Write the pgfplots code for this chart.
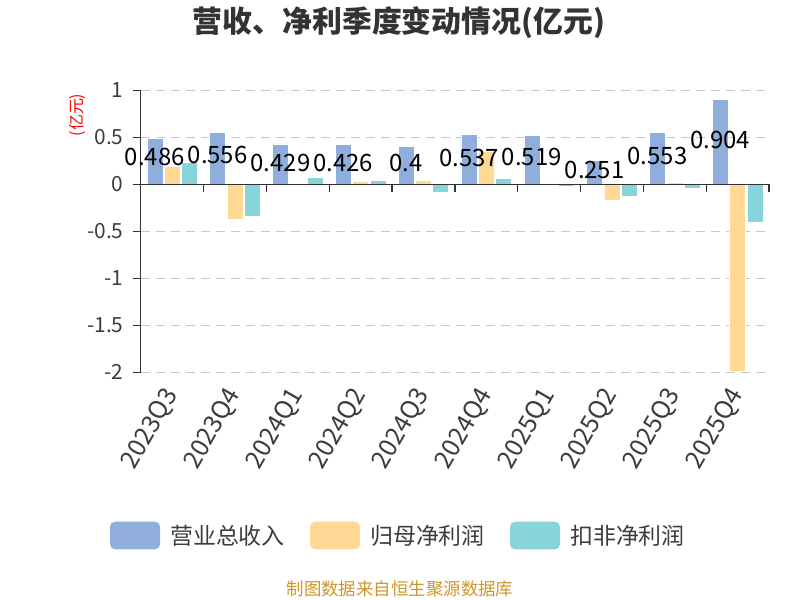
\documentclass[border=0pt]{standalone}
\usepackage{pgfplots}
\usepackage{pgfplotstable}
\pgfplotsset{compat=1.18}
\usepackage{fontspec}
\setmainfont{Noto Sans CJK SC}
\definecolor{cblue}{RGB}{143,174,219}
\definecolor{corange}{RGB}{255,216,150}
\definecolor{cteal}{RGB}{135,213,217}
\definecolor{axc}{RGB}{51,51,51}
\definecolor{gridc}{RGB}{200,200,200}
\definecolor{txt}{RGB}{60,60,60}
\definecolor{foot}{RGB}{204,150,40}

\pgfplotstableread{
x blue orange teal ly lab
0 0.486 0.195 0.237 0.294 0.486
1 0.556 -0.372 -0.345 0.312 0.556
2 0.429 0.014 0.074 0.227 0.429
3 0.426 0.032 0.038 0.227 0.426
4 0.400 0.038 -0.089 0.227 0.4
5 0.537 0.351 0.060 0.280 0.537
6 0.519 0.005 -0.025 0.294 0.519
7 0.251 -0.174 -0.132 0.152 0.251
8 0.553 0.020 -0.040 0.301 0.553
9 0.904 -1.99 -0.408 0.471 0.904
}\datatable

\begin{document}
\begin{tikzpicture}
\useasboundingbox (0,0) rectangle (800bp,600bp);
\begin{axis}[
  at={(140.7bp,227.7bp)}, anchor=south west,
  scale only axis, width=628.3bp, height=282bp,
  xmin=-0.5, xmax=9.5, ymin=-2, ymax=1,
  axis y line*=left, axis x line*=bottom,
  x axis line style={draw=none},
  y axis line style={color=axc, line width=1.3bp},
  xtick={0,...,9},
  xticklabels={2023Q3,2023Q4,2024Q1,2024Q2,2024Q3,2024Q4,2025Q1,2025Q2,2025Q3,2025Q4},
  x tick style={draw=none},
  xticklabel style={xshift=0bp, yshift=-11bp, rotate=60, anchor=east, inner sep=0pt, font=\fontsize{25}{25}\selectfont, text=txt},
  ytick={-2,-1.5,-1,-0.5,0,0.5,1},
  yticklabels={-2,-1.5,-1,-0.5,0,0.5,1},
  yticklabel style={font=\fontsize{21}{21}\selectfont, text=txt, inner sep=0pt, xshift=-9bp},
  y tick style={color=axc, line width=1.3bp},
  tick align=outside, major tick length=8bp,
  ymajorgrids,
  grid style={color=gridc, line width=1.3bp, dash pattern=on 9bp off 6bp},
  clip=false,
]
\addplot[ybar, bar width=16bp, bar shift=-17.3bp, fill=cblue, draw=white, line width=0.5bp] table[x=x,y=blue]{\datatable};
\addplot[ybar, bar width=16bp, bar shift=0bp, fill=corange, draw=white, line width=0.5bp] table[x=x,y=orange]{\datatable};
\addplot[ybar, bar width=16bp, bar shift=17.3bp, fill=cteal, draw=white, line width=0.5bp] table[x=x,y=teal]{\datatable};
\draw[color=axc, line width=1.3bp] (axis cs:-0.5,0) -- (axis cs:9.5,0);
\pgfplotsinvokeforeach{0,...,10}{
  \draw[color=axc, line width=1.3bp] (axis cs:#1-0.5,0) -- ([yshift=-8bp]axis cs:#1-0.5,0);
}
\addplot[draw=none, mark=none, nodes near coords, point meta=explicit symbolic,
  every node near coord/.style={anchor=center, xshift=-17.3bp, font=\fontsize{24}{24}\selectfont, text=black, inner sep=0pt}]
  table[x=x,y=ly,meta=lab]{\datatable};
\end{axis}
\begin{scope}[x=1bp,y=-1bp,yshift=600bp]
\node[font=\fontsize{30}{30}\selectfont\bfseries, text=axc] at (399,23) {营收、净利季度变动情况(亿元)};
\node[rotate=90, font=\fontsize{16}{16}\selectfont, text=red] at (77,115) {(亿元)};
\fill[cblue, rounded corners=5bp] (110,521.7) rectangle (160,549.3);
\node[anchor=west, inner sep=0pt, font=\fontsize{23}{23}\selectfont, text=txt] at (170,535.5) {营业总收入};
\fill[corange, rounded corners=5bp] (310,521.7) rectangle (360,549.3);
\node[anchor=west, inner sep=0pt, font=\fontsize{23}{23}\selectfont, text=txt] at (370,535.5) {归母净利润};
\fill[cteal, rounded corners=5bp] (510,521.7) rectangle (560,549.3);
\node[anchor=west, inner sep=0pt, font=\fontsize{23}{23}\selectfont, text=txt] at (570,535.5) {扣非净利润};
\node[font=\fontsize{17.5}{17.5}\selectfont, text=foot] at (400,589) {制图数据来自恒生聚源数据库};
\end{scope}
\end{tikzpicture}
\end{document}
